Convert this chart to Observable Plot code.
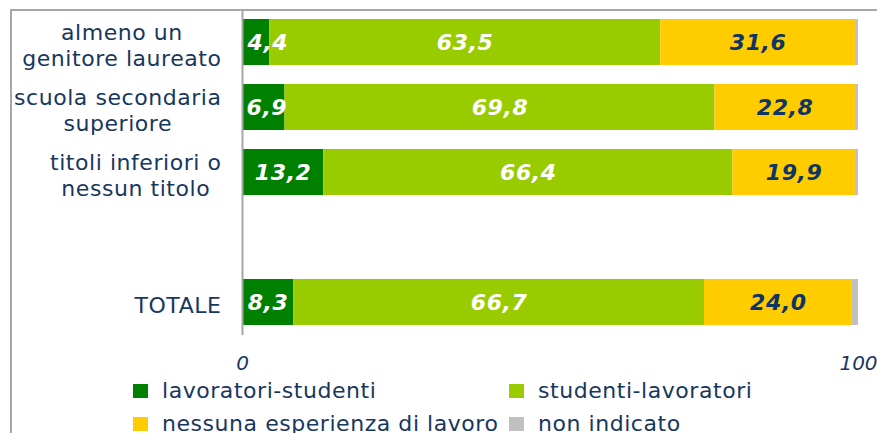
<!DOCTYPE html>
<html><head><meta charset="utf-8">
<script src="https://cdn.jsdelivr.net/npm/d3@7"></script>
<script src="https://cdn.jsdelivr.net/npm/@observablehq/plot@0.6"></script>
<style>
body{margin:0;background:#fff;}
#wrap{position:relative;width:877px;height:433px;overflow:hidden;font-family:"DejaVu Sans",Verdana,sans-serif;background:#fff;}
#frame{position:absolute;left:10px;top:9px;width:900px;height:500px;border-left:2px solid #a6a6a6;border-top:2px solid #a6a6a6;}
#chart{position:absolute;left:0;top:0;}
.leg{position:absolute;font-size:22px;letter-spacing:0.55px;color:#17375e;line-height:22px;white-space:nowrap;}
.sw{position:absolute;width:15px;height:14px;}
</style></head><body>
<div id="wrap"><div id="frame"></div><div id="chart"></div><div id="legend"></div></div>
<script>
const categories = ["almeno un\ngenitore laureato", "scuola secondaria\nsuperiore", "titoli inferiori o\nnessun titolo", "", "TOTALE"];
const rows = ["almeno un\ngenitore laureato", "scuola secondaria\nsuperiore", "titoli inferiori o\nnessun titolo", "TOTALE"];
const seriesNames = ["lavoratori-studenti", "studenti-lavoratori", "nessuna esperienza di lavoro", "non indicato"];
const seriesColors = ["#008000", "#99cc00", "#ffcc00", "#c0c0c0"];
const lavoratoriStudenti = [4.4, 6.9, 13.2, 8.3];
const studentiLavoratori = [63.5, 69.8, 66.4, 66.7];
const nessunaEsperienza = [31.6, 22.8, 19.9, 24.0];
const nonIndicato = [0.5, 0.5, 0.5, 1.0];
const xTicks = [0, 100];

const seriesValues = [lavoratoriStudenti, studentiLavoratori, nessunaEsperienza, nonIndicato];
const data = [];
rows.forEach((r, i) => seriesNames.forEach((s, j) => data.push({cat: r, series: s, value: seriesValues[j][i]})));
const fmt = v => v.toFixed(1).replace(".", ",");
const navy = "#17375e";
const labelNavy = "#0f3466";

const chart = Plot.plot({
  width: 877,
  height: 380,
  marginLeft: 242,
  marginRight: 19,
  marginTop: 10,
  marginBottom: 45,
  style: {fontFamily: "'DejaVu Sans', Verdana, sans-serif", background: "transparent", overflow: "visible"},
  x: {domain: [0, 100], axis: null, label: null},
  y: {domain: categories, axis: null, paddingInner: 0.29, paddingOuter: 0.145},
  color: {domain: seriesNames, range: seriesColors},
  marks: [
    Plot.barX(data, {x: "value", y: "cat", fill: "series"}),
    Plot.text(data, Plot.stackX({x: "value", y: "cat", z: "series",
      text: d => (d.series === seriesNames[0] || d.series === seriesNames[1]) ? fmt(d.value) : "",
      fill: "white", fontWeight: "bold", fontStyle: "italic", fontSize: 22})),
    Plot.text(data, Plot.stackX({x: "value", y: "cat", z: "series",
      text: d => d.series === seriesNames[2] ? fmt(d.value) : "",
      fill: labelNavy, fontWeight: "bold", fontStyle: "italic", fontSize: 22})),
    Plot.ruleX([0], {stroke: "#a6a6a6", strokeWidth: 2}),
    Plot.axisX({ticks: xTicks, tickSize: 0, tickPadding: 20, line: true, stroke: "#a6a6a6", strokeWidth: 2,
      fill: navy, fontStyle: "italic", fontSize: 20, label: null, tickFormat: d => String(d)}),
    Plot.text(rows, {y: d => d, text: d => d, frameAnchor: "left", textAnchor: "end", dx: -21, dy: 2,
      lineHeight: 1.17, fontSize: 22, fill: navy})
  ]
});
document.getElementById("chart").appendChild(chart);

// value labels: slightly wider tracking; keep them inside the plot area like the original
const plotLeft = 242;
chart.querySelectorAll("text").forEach(t => {
  if (/^\d+,\d$/.test(t.textContent)) {
    t.setAttribute("letter-spacing", "0.6");
    const bb = t.getBBox();
    const m = /translate\(([-\d.]+)/.exec(t.getAttribute("transform") || "");
    const tx = m ? +m[1] : 0;
    const left = tx + bb.x;
    if (left < plotLeft + 4) {
      t.setAttribute("transform", (t.getAttribute("transform") || "") + ` translate(${plotLeft + 4 - left},0)`);
    }
  }
  if (t.textContent === "0" || t.textContent === "100") t.setAttribute("font-style", "italic");
});

// center the lines of each category label block (as in the original)
const flat = rows.map(r => r.replace("\n", ""));
chart.querySelectorAll("text").forEach(t => {
  if (!flat.includes(t.textContent)) return;
  t.setAttribute("letter-spacing", "0.55");
  const spans = t.querySelectorAll("tspan");
  const widths = spans.length ? Array.from(spans, s => s.getComputedTextLength()) : [t.getComputedTextLength()];
  const maxW = Math.max(...widths);
  t.setAttribute("text-anchor", "middle");
  t.setAttribute("transform", (t.getAttribute("transform") || "") + ` translate(${-maxW / 2},0)`);
});

// legend
const legend = document.getElementById("legend");
const legPos = [[133, 384], [509, 384], [133, 417], [509, 417]];
seriesNames.forEach((name, k) => {
  const [lx, ly] = legPos[k];
  const sw = document.createElement("div");
  sw.className = "sw";
  sw.style.left = lx + "px"; sw.style.top = ly + "px"; sw.style.background = seriesColors[k];
  legend.appendChild(sw);
  const tx = document.createElement("div");
  tx.className = "leg";
  tx.style.left = (lx + 29) + "px"; tx.style.top = (ly - 4) + "px";
  tx.textContent = name;
  legend.appendChild(tx);
});
</script>
</body></html>
